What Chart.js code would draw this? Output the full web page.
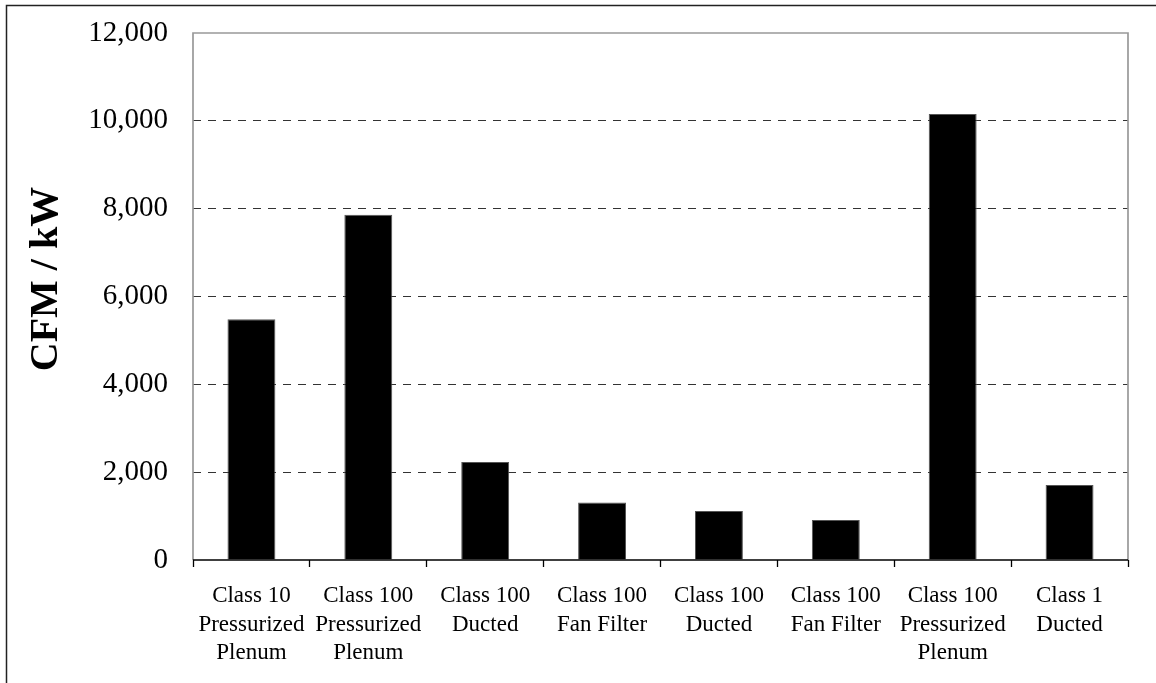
<!DOCTYPE html>
<html>
<head>
<meta charset="utf-8">
<script src="https://cdn.jsdelivr.net/npm/chart.js@4/dist/chart.umd.min.js"></script>
<style>
  html, body { margin: 0; padding: 0; background: #fff; }
  #wrap { width: 1156px; height: 683px; position: relative; }
</style>
</head>
<body>
<div id="wrap"><canvas id="c" width="1156" height="683"></canvas></div>
<script>
const categories = [
  ["Class 10", "Pressurized", "Plenum"],
  ["Class 100", "Pressurized", "Plenum"],
  ["Class 100", "Ducted"],
  ["Class 100", "Fan Filter"],
  ["Class 100", "Ducted"],
  ["Class 100", "Fan Filter"],
  ["Class 100", "Pressurized", "Plenum"],
  ["Class 1", "Ducted"]
];
const cfmPerKw = [5480, 7860, 2230, 1310, 1115, 910, 10155, 1710];
const yTicks = [0, 2000, 4000, 6000, 8000, 10000, 12000];
const yTitle = "CFM / kW";

const framePlugin = {
  id: 'frame',
  afterDraw(chart) {
    const ctx = chart.ctx;
    const a = chart.chartArea;
    ctx.save();
    // outer border (top & left visible)
    ctx.strokeStyle = '#222';
    ctx.lineWidth = 1.5;
    ctx.beginPath();
    ctx.moveTo(6.5, 683);
    ctx.lineTo(6.5, 5.5);
    ctx.lineTo(1156, 5.5);
    ctx.stroke();
    // plot frame (gray) top, left, right
    ctx.strokeStyle = '#999';
    ctx.lineWidth = 1.7;
    ctx.beginPath();
    ctx.moveTo(a.left, a.bottom);
    ctx.lineTo(a.left, a.top);
    ctx.lineTo(a.right, a.top);
    ctx.lineTo(a.right, a.bottom);
    ctx.stroke();
    // x axis line black
    ctx.strokeStyle = '#000';
    ctx.lineWidth = 1.3;
    ctx.beginPath();
    ctx.moveTo(a.left, a.bottom);
    ctx.lineTo(a.right, a.bottom);
    ctx.stroke();
    // y axis title
    ctx.fillStyle = '#000';
    ctx.font = 'bold 40px "Liberation Serif", "Times New Roman", serif';
    ctx.textAlign = 'center';
    ctx.textBaseline = 'middle';
    ctx.translate(47, 279);
    ctx.rotate(-Math.PI / 2);
    ctx.fillText(yTitle, 0, 0);
    ctx.restore();
  }
};

new Chart(document.getElementById('c'), {
  type: 'bar',
  data: {
    labels: categories,
    datasets: [{
      data: cfmPerKw,
      backgroundColor: '#000',
      borderColor: '#555',
      borderWidth: 1,
      barPercentage: 0.41,
      categoryPercentage: 1.0
    }]
  },
  options: {
    responsive: false,
    animation: false,
    devicePixelRatio: 1,
    layout: { padding: { top: 33, right: 28, left: 0, bottom: 0 } },
    plugins: { legend: { display: false }, tooltip: { enabled: false } },
    scales: {
      x: {
        afterFit(s) { s.height = 123; s.paddingLeft = 0; s.paddingRight = 0; },
        grid: {
          display: true,
          drawOnChartArea: false,
          drawTicks: true,
          tickLength: 7,
          tickColor: '#000',
          tickWidth: 1.3,
          offset: true
        },
        border: { display: false },
        ticks: {
          color: '#000',
          padding: 14,
          maxRotation: 0,
          autoSkip: false,
          font: { family: '"Liberation Serif", "Times New Roman", serif', size: 23, lineHeight: 1.26 }
        }
      },
      y: {
        min: 0,
        max: 12000,
        afterFit(s) { s.width = 193; s.paddingTop = 0; s.paddingBottom = 0; },
        afterBuildTicks(s) { s.ticks = yTicks.map(v => ({ value: v })); },
        grid: {
          drawTicks: false,
          color: ctx => (ctx.tick && (ctx.tick.value === 0 || ctx.tick.value === 12000)) ? 'rgba(0,0,0,0)' : '#333',
          lineWidth: 1
        },
        border: { display: false, dash: [8, 7] },
        ticks: {
          color: '#000',
          padding: 25,
          font: { family: '"Liberation Serif", "Times New Roman", serif', size: 29 },
          callback: v => v.toLocaleString('en-US')
        },
        title: { display: false }
      }
    }
  },
  plugins: [framePlugin]
});
</script>
</body>
</html>
